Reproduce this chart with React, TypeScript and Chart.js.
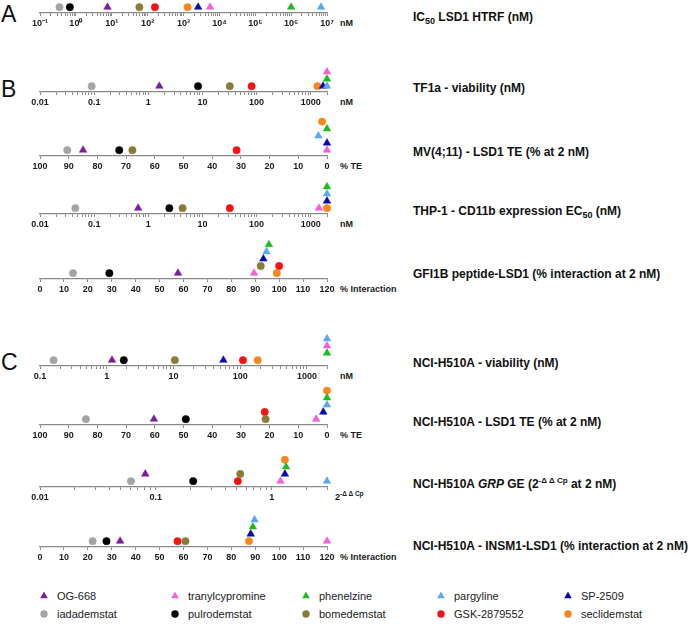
import React, { useEffect, useRef } from 'react';
import { Chart, registerables } from 'chart.js';

Chart.register(...registerables);

const FONT = "'Liberation Sans', Arial, Helvetica, sans-serif";

// ---------- data ----------
const compounds = ['OG-668', 'tranylcypromine', 'phenelzine', 'pargyline', 'SP-2509', 'iadademstat', 'pulrodemstat', 'bomedemstat', 'GSK-2879552', 'seclidemstat'];
const colors = ['#7a1e9e', '#f25fd6', '#1fba1f', '#5aa7f2', '#0b0baa', '#a4a4a4', '#000000', '#8c7a3a', '#f41212', '#f7871d'];
const shapes = ['triangle', 'triangle', 'triangle', 'triangle', 'triangle', 'circle', 'circle', 'circle', 'circle', 'circle'];

// values in compound order; stack = vertical stacking level of overlapping markers
const ic50Htrf = [7.6, 5500, 1.0e6, 6.8e6, 2560, 0.35, 0.68, 59, 160, 1300];
const ic50HtrfStack = [0, 0, 0, 0, 0, 0, 0, 0, 0, 0];

const tf1aViability = [1.6, 2000, 2000, 2000, 1690, 0.09, 8.3, 32, 81, 1330];
const tf1aViabilityStack = [0, 2, 1, 0, 0, 0, 0, 0, 0, 0];

const mv411Te = [85, 0, 0, 3, 0, 90.5, 72.4, 67.8, 31.5, 1.7];
const mv411TeStack = [0, 0, 3, 2, 1, 0, 0, 0, 0, 4];

const thp1Cd11b = [0.65, 1420, 2000, 2000, 2000, 0.045, 2.45, 4.3, 32, 2000];
const thp1Cd11bStack = [0, 0, 3, 2, 1, 0, 0, 0, 0, 0];

const gfi1bInteraction = [57.7, 89.5, 95.7, 94.7, 93.4, 13.8, 29, 92.3, 100, 99];
const gfi1bInteractionStack = [0, 0, 4, 3, 2, 0, 0, 1, 1, 0];

const h510aViability = [1.2, 2000, 2000, 2000, 56, 0.16, 1.8, 10.5, 110, 183];
const h510aViabilityStack = [0, 2, 1, 3, 0, 0, 0, 0, 0, 0];

const h510aTe = [60.3, 3.8, 0, 0, 1.3, 84, 49.2, 21.4, 21.7, 0];
const h510aTeStack = [0, 0, 3, 2, 1, 0, 0, 0, 1, 4];

const h510aGrp = [0.081, 1.19, 1.33, 3.0, 1.3, 0.061, 0.21, 0.535, 0.51, 1.3];
const h510aGrpStack = [1, 0, 2, 0, 1, 0, 0, 1, 0, 3];

const insm1Interaction = [33.5, 120, 89, 89.7, 88.1, 22, 27.8, 60.8, 57.5, 87.4];
const insm1InteractionStack = [0, 0, 2, 3, 1, 0, 0, 0, 0, 0];

const legendRow1 = [0, 1, 2, 3, 4];
const legendRow2 = [5, 6, 7, 8, 9];

type RowCfg = {
  values: number[];
  stack: number[];
  kind: 'log' | 'linear';
  min: number;
  max: number;
  reverse?: boolean;
  sup?: boolean;
  axisY: number;
};

const rows: RowCfg[] = [
  { values: ic50Htrf, stack: ic50HtrfStack, kind: 'log', min: 0.1, max: 1e7, sup: true, axisY: 13 },
  { values: tf1aViability, stack: tf1aViabilityStack, kind: 'log', min: 0.01, max: 2000, axisY: 92 },
  { values: mv411Te, stack: mv411TeStack, kind: 'linear', min: 0, max: 100, reverse: true, axisY: 156 },
  { values: thp1Cd11b, stack: thp1Cd11bStack, kind: 'log', min: 0.01, max: 2000, axisY: 214 },
  { values: gfi1bInteraction, stack: gfi1bInteractionStack, kind: 'linear', min: 0, max: 120, axisY: 279 },
  { values: h510aViability, stack: h510aViabilityStack, kind: 'log', min: 0.1, max: 2000, axisY: 366 },
  { values: h510aTe, stack: h510aTeStack, kind: 'linear', min: 0, max: 100, reverse: true, axisY: 425 },
  { values: h510aGrp, stack: h510aGrpStack, kind: 'log', min: 0.01, max: 3, axisY: 487 },
  { values: insm1Interaction, stack: insm1InteractionStack, kind: 'linear', min: 0, max: 120, axisY: 547 },
];

// ---------- helpers ----------
const SUP: Record<string, string> = { '-': '⁻', '0': '⁰', '1': '¹', '2': '²', '3': '³', '4': '⁴', '5': '⁵', '6': '⁶', '7': '⁷', '8': '⁸', '9': '⁹' };

function logTickValues(min: number, max: number): number[] {
  const out: number[] = [];
  const e0 = Math.floor(Math.log10(min) + 1e-9);
  const e1 = Math.ceil(Math.log10(max) - 1e-9);
  for (let e = e0; e <= e1; e++) {
    for (let k = 1; k <= 9; k++) {
      const v = Number((k * Math.pow(10, e)).toPrecision(12));
      if (v >= min * 0.999999 && v <= max * 1.000001) out.push(v);
    }
  }
  return out;
}

const CANVAS_LEFT = 10;
const CANVAS_W = 347;
const CANVAS_H = 60;
const PAD_LEFT = 30;
const PAD_RIGHT = 30;
const AXIS_IN_CANVAS = 42;
const AXIS_COLOR = '#8a8a8a';

function RowChart({ cfg }: { cfg: RowCfg }) {
  const ref = useRef<HTMLCanvasElement>(null);
  useEffect(() => {
    if (!ref.current) return;
    const datasets = compounds.map((name, i) => ({
      label: name,
      data: [{ x: cfg.values[i], y: cfg.stack[i] }],
      pointStyle: shapes[i] as any,
      pointRadius: shapes[i] === 'triangle' ? 4.4 : 3.7,
      pointHoverRadius: shapes[i] === 'triangle' ? 4.4 : 3.7,
      backgroundColor: colors[i],
      borderColor: colors[i],
      borderWidth: 0.5,
      clip: false as any,
    }));

    const common: any = {
      position: 'bottom',
      min: cfg.min,
      max: cfg.max,
      reverse: !!cfg.reverse,
      border: { display: true, color: AXIS_COLOR, width: 1.3 },
      grid: { display: true, drawOnChartArea: false, drawTicks: true, tickLength: 3, color: AXIS_COLOR, lineWidth: 1 },
      afterFit: (s: any) => { s.height = 18; },
    };
    let x: any;
    if (cfg.kind === 'log') {
      x = {
        ...common,
        type: 'logarithmic',
        afterBuildTicks: (s: any) => {
          s.ticks = logTickValues(cfg.min, cfg.max).map((v) => ({ value: v }));
        },
        ticks: {
          autoSkip: false, maxRotation: 0, minRotation: 0, padding: 2,
          color: '#1a1a1a',
          font: { family: FONT, size: 9, weight: 'bold' },
          callback: (v: any) => {
            const val = Number(v);
            const l = Math.log10(val);
            const r = Math.round(l);
            if (Math.abs(l - r) > 1e-6) return '';
            if (cfg.sup) return '10' + String(r).split('').map((c) => SUP[c]).join('');
            return r < 0 ? val.toFixed(-r) : String(Math.pow(10, r));
          },
        },
      };
    } else {
      x = {
        ...common,
        type: 'linear',
        ticks: {
          autoSkip: false, maxRotation: 0, minRotation: 0, padding: 2, stepSize: 10,
          color: '#1a1a1a',
          font: { family: FONT, size: 9, weight: 'bold' },
        },
      };
    }

    const chart = new Chart(ref.current, {
      type: 'scatter',
      data: { datasets },
      options: {
        responsive: false,
        animation: false,
        events: [],
        layout: { padding: { left: PAD_LEFT, right: PAD_RIGHT, top: 4, bottom: 0 } },
        plugins: { legend: { display: false }, tooltip: { enabled: false } },
        scales: {
          x,
          y: { display: false, min: -0.82, max: 4.38 },
        },
      } as any,
    });
    return () => chart.destroy();
  }, [cfg]);
  return (
    <canvas
      ref={ref}
      width={CANVAS_W}
      height={CANVAS_H}
      style={{ position: 'absolute', left: CANVAS_LEFT, top: cfg.axisY - AXIS_IN_CANVAS, width: CANVAS_W, height: CANVAS_H }}
    />
  );
}

function Marker({ i, cx, cy }: { i: number; cx: number; cy: number }) {
  if (shapes[i] === 'triangle') {
    const r = 4.4;
    const pts = [
      [cx, cy - r],
      [cx + r * Math.sin((2 * Math.PI) / 3), cy - r * Math.cos((2 * Math.PI) / 3)],
      [cx + r * Math.sin((4 * Math.PI) / 3), cy - r * Math.cos((4 * Math.PI) / 3)],
    ].map((p) => p.join(',')).join(' ');
    return <polygon points={pts} fill={colors[i]} />;
  }
  return <circle cx={cx} cy={cy} r={3.7} fill={colors[i]} />;
}

export default function App() {
  const titleStyle = { fontFamily: FONT, fontSize: 12, fontWeight: 700, fill: '#111' } as any;
  const unitStyle = { fontFamily: FONT, fontSize: 9, fontWeight: 700, fill: '#1a1a1a' } as any;
  const letterStyle = { fontFamily: FONT, fontSize: 23, fill: '#111' } as any;
  const legendStyle = { fontFamily: FONT, fontSize: 11, fill: '#222' } as any;
  const legendX = [44, 175, 306, 441, 568];
  const unitLabels = ['nM', 'nM', '% TE', 'nM', '% Interaction', 'nM', '% TE', null, '% Interaction'];

  return (
    <div style={{ position: 'absolute', left: 0, top: 0, width: 700, height: 626, background: '#fff', overflow: 'hidden' }}>
      <svg width={700} height={626} style={{ position: 'absolute', left: 0, top: 0 }}>
        <text x={1} y={22} style={letterStyle}>A</text>
        <text x={1} y={97} style={letterStyle}>B</text>
        <text x={1} y={370} style={letterStyle}>C</text>

        {unitLabels.map((u, k) =>
          u ? (
            <text key={k} x={340} y={rows[k].axisY + 13} style={unitStyle}>{u}</text>
          ) : null
        )}
        <text x={335} y={rows[7].axisY + 13} style={unitStyle}>
          2<tspan dy={-4} fontSize={6.5}>-Δ Δ Cp</tspan>
        </text>

        <text x={413} y={21} style={titleStyle}>
          IC<tspan dy={3} fontSize={9}>50</tspan><tspan dy={-3}> LSD1 HTRF (nM)</tspan>
        </text>
        <text x={413} y={92} style={titleStyle}>TF1a - viability (nM)</text>
        <text x={413} y={156} style={titleStyle}>MV(4;11) - LSD1 TE (% at 2 nM)</text>
        <text x={413} y={215} style={titleStyle}>
          THP-1 - CD11b expression EC<tspan dy={3} fontSize={9}>50</tspan><tspan dy={-3}> (nM)</tspan>
        </text>
        <text x={413} y={278} style={titleStyle}>GFI1B peptide-LSD1 (% interaction at 2 nM)</text>
        <text x={413} y={367} style={titleStyle}>NCI-H510A - viability (nM)</text>
        <text x={413} y={426} style={titleStyle}>NCI-H510A - LSD1 TE (% at 2 nM)</text>
        <text x={413} y={488} style={titleStyle}>
          NCI-H510A <tspan fontStyle="italic">GRP</tspan> GE (2<tspan dy={-5} fontSize={8}>-Δ Δ Cp</tspan><tspan dy={5}> at 2 nM)</tspan>
        </text>
        <text x={413} y={550} style={titleStyle}>NCI-H510A - INSM1-LSD1 (% interaction at 2 nM)</text>

        {legendRow1.map((i, k) => (
          <g key={'l1' + k}>
            <Marker i={i} cx={legendX[k]} cy={596} />
            <text x={legendX[k] + 13} y={600} style={legendStyle}>{compounds[i]}</text>
          </g>
        ))}
        {legendRow2.map((i, k) => (
          <g key={'l2' + k}>
            <Marker i={i} cx={legendX[k]} cy={614} />
            <text x={legendX[k] + 13} y={618} style={legendStyle}>{compounds[i]}</text>
          </g>
        ))}
      </svg>
      {rows.map((cfg, k) => (
        <RowChart key={k} cfg={cfg} />
      ))}
    </div>
  );
}
